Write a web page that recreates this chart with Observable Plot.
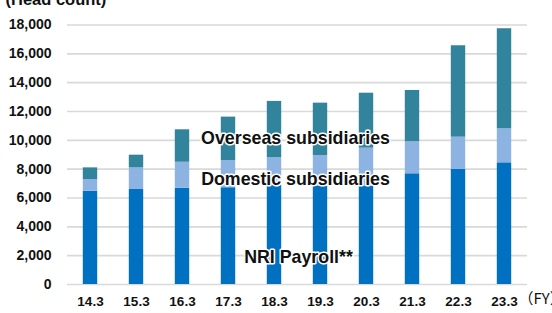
<!DOCTYPE html>
<html>
<head>
<meta charset="utf-8">
<script src="https://cdn.jsdelivr.net/npm/d3@7"></script>
<script src="https://cdn.jsdelivr.net/npm/@observablehq/plot@0.6"></script>
<style>
  html, body { margin: 0; padding: 0; background: #ffffff; }
</style>
</head>
<body>
<div id="chart"></div>
<script>
const years = ["14.3", "15.3", "16.3", "17.3", "18.3", "19.3", "20.3", "21.3", "22.3", "23.3"];
const seriesNames = ["NRI Payroll**", "Domestic subsidiaries", "Overseas subsidiaries"];
const nriPayroll = [6470, 6590, 6680, 6710, 6870, 6800, 6820, 7680, 7980, 8440];
const domesticSubs = [810, 1500, 1800, 1890, 1920, 2150, 2640, 2220, 2240, 2360];
const overseasSubs = [810, 880, 2250, 3010, 3910, 3630, 3810, 3560, 6340, 6940];
const seriesColors = ["#0070C0", "#8DB3E2", "#31849B"];
const yTicks = [0, 2000, 4000, 6000, 8000, 10000, 12000, 14000, 16000, 18000];
const unitLabel = "(Head count)";
const fyLabel = "（FY）";
// in-chart series labels: [text, anchor year, anchor value]
const seriesLabels = [
  {text: "Overseas subsidiaries", year: "18.3", value: 10150},
  {text: "Domestic subsidiaries", year: "18.3", value: 7300},
  {text: "NRI Payroll**", year: "18.3", value: 1900}
];

const allSeries = [nriPayroll, domesticSubs, overseasSubs];
const data = [];
allSeries.forEach((vals, si) => {
  years.forEach((yr, i) => data.push({year: yr, series: seriesNames[si], value: vals[i]}));
});

const font = "'Liberation Sans', Arial, Helvetica, sans-serif";

const chart = Plot.plot({
  width: 552,
  height: 313,
  marginLeft: 67,
  marginRight: 25,
  marginTop: 24.5,
  marginBottom: 29,
  style: {fontFamily: font, background: "#ffffff", color: "#111"},
  x: {domain: years, padding: 0, label: null},
  y: {domain: [0, 18000], label: null},
  color: {domain: seriesNames, range: seriesColors},
  marks: [
    Plot.gridY(yTicks, {stroke: "#d9d9d9", strokeOpacity: 1, strokeWidth: 1.6}),
    Plot.barY(data, {x: "year", y: "value", fill: "series", insetLeft: 15.8, insetRight: 15.8}),
    Plot.axisY(yTicks, {tickSize: 0, tickPadding: 16, tickFormat: d3.format(","), fontWeight: "bold", fontSize: 14, label: null}),
    Plot.axisX({tickSize: 0, tickPadding: 12, fontWeight: "bold", fontSize: 13.5, label: null}),
    Plot.text(seriesLabels.slice(0, 2), {x: "year", y: "value", text: "text", dx: 21, fontSize: 17.8, fontWeight: "bold", fill: "#111", stroke: "white", strokeWidth: 3, paintOrder: "stroke"}),
    Plot.text(seriesLabels.slice(2), {x: "year", y: "value", text: "text", dx: 24, fontSize: 17.8, fontWeight: "bold", fill: "#111", stroke: "white", strokeWidth: 3, paintOrder: "stroke"}),
    Plot.text([fyLabel], {frameAnchor: "bottom-right", textAnchor: "start", dx: -9, dy: 19, fontSize: 15, fontFamily: "'Noto Sans CJK JP', sans-serif", fill: "#111"}),
    Plot.text([unitLabel], {frameAnchor: "top-left", textAnchor: "start", lineAnchor: "bottom", dx: -62, dy: -20, fontSize: 16.5, fontWeight: "bold", fill: "#111"})
  ]
});
document.getElementById("chart").appendChild(chart);
</script>
</body>
</html>
